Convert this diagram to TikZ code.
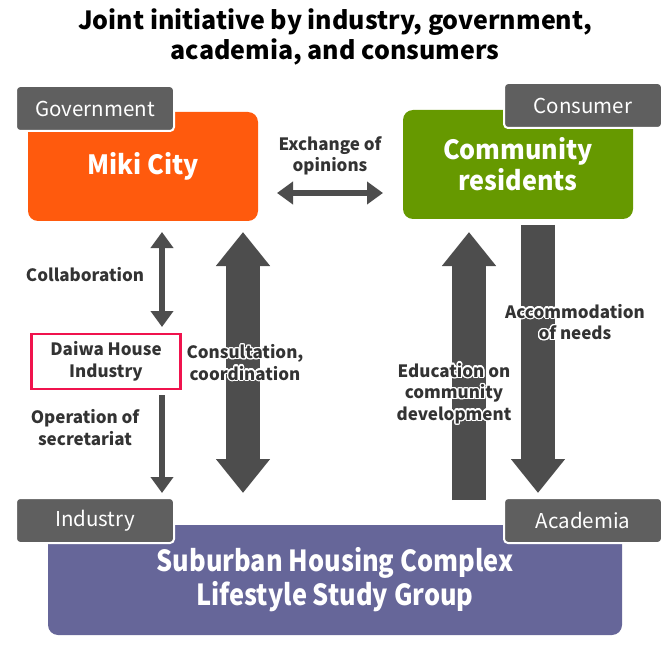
\documentclass[tikz,border=0pt]{standalone}
\usepackage{fontspec}
\setmainfont{Noto Sans CJK JP}
\newfontfamily\bodysans[FakeStretch=0.95]{Noto Sans CJK JP}
\newfontfamily\groupsans[FakeStretch=0.875]{Noto Sans CJK JP}
\usepackage[copies]{contour}
\contourlength{1.3pt}
\usetikzlibrary{arrows.meta,positioning}

\definecolor{cityorange}{HTML}{FF5A0D}
\definecolor{residentgreen}{HTML}{669900}
\definecolor{tabgray}{HTML}{5F5F5F}
\definecolor{arrowgray}{HTML}{4D4D4D}
\definecolor{labelgray}{HTML}{333333}
\definecolor{groupviolet}{HTML}{666699}
\definecolor{daiwared}{HTML}{F0134D}

\tikzset{
  thintip/.tip={Triangle[length=16pt 0 0, width=22pt 0 0]},
  fattip/.tip={Triangle[length=34pt 0 0, width=52pt 0 0]}
}

\begin{document}
\begin{tikzpicture}[
  x=1pt, y=-1pt,
  every node/.style={inner sep=0pt},
  body/.style={rounded corners=10pt, minimum width=230pt, minimum height=109pt, text=white, align=center, font=\bodysans\bfseries\fontsize{26.5}{31}\selectfont},
  tab/.style={draw=white, line width=2pt, fill=tabgray, rounded corners=4pt, minimum width=158pt, minimum height=45pt, text=white, font=\fontsize{20.5}{22}\selectfont},
  lbl/.style={text=labelgray, align=center, font=\bfseries\fontsize{17}{21.5}\selectfont},
  thinline/.style={draw=arrowgray, line width=6pt},
  fatline/.style={draw=arrowgray, line width=34pt}
]
\useasboundingbox (0,0) rectangle (670,650);

% title
\node[align=center, font=\bfseries\fontsize{25}{30}\selectfont] (title) at (335,37) {Joint initiative by industry, government,\\academia, and consumers};

% the four parties
\node[body, fill=cityorange] (miki) at (143,166.5) {Miki City};
\node[body, fill=residentgreen] (residents) at (518,164.5) {Community\\residents};
\node[body, fill=groupviolet, minimum width=574pt, minimum height=110pt, font=\groupsans\bfseries\fontsize{29}{34}\selectfont] (group) at (335,580) {Suburban Housing Complex\\Lifestyle Study Group};
\node[tab] (gov) at (95,108.5) {Government};
\node[tab] (consumer) at (583,105.5) {Consumer};
\node[tab] (industry) at (95,520.5) {Industry};
\node[tab] (academia) at (583,520.5) {Academia};

\node[draw=daiwared, line width=2.5pt, minimum width=149pt, minimum height=55pt, lbl, text=labelgray] (daiwa) at (106,361.5) {Daiwa House\\Industry};

% arrow ends
\coordinate (exL) at (277,193);
\coordinate (exR) at (383,193);
\coordinate (colT) at (162,232);
\coordinate (colB) at (162,327);
\coordinate (secT) at (162,395);
\coordinate (secB) at (162,493);
\coordinate (conT) at (243,232);
\coordinate (conB) at (243,493);
\coordinate (eduB) at (469,500);
\coordinate (eduT) at (469,232);
\coordinate (accT) at (538,225);
\coordinate (accB) at (538,493);

\draw[thinline, thintip-thintip] (exL) -- (exR);
\draw[thinline, thintip-thintip] (colT) -- (colB);
\draw[thinline, -thintip] (secT) -- (secB);
\draw[fatline, fattip-fattip] (conT) -- (conB);
\draw[fatline, -fattip] (eduB) -- (eduT);
\draw[fatline, -fattip] (accT) -- (accB);

% labels
\node[lbl] (exchange) at (330,156) {Exchange of\\opinions};
\node[lbl] (collab) at (85,275) {Collaboration};
\node[lbl] (secretariat) at (85,427.5) {Operation of\\secretariat};
\node[lbl] (consult) at (245,363) {\contour{white}{Consultation,}\\\contour{white}{coordination}};
\node[lbl] (educ) at (454,394) {\contour{white}{Education on}\\\contour{white}{community}\\\contour{white}{development}};
\node[lbl] (accom) at (575,322.5) {\contour{white}{Accommodation}\\\contour{white}{of needs}};
\end{tikzpicture}
\end{document}
